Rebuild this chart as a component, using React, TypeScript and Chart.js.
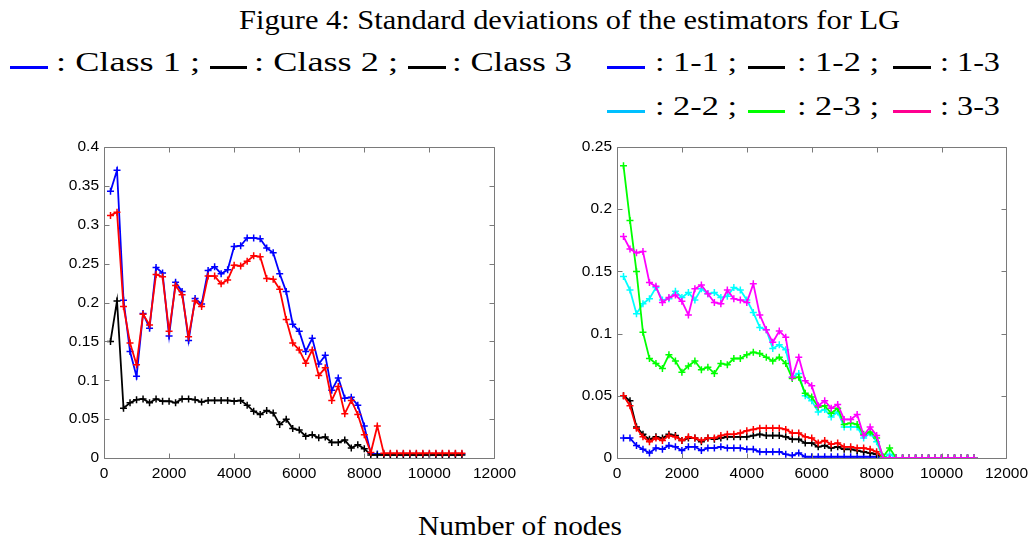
import React, { useEffect, useRef } from 'react';
import { Chart, registerables } from 'chart.js';

Chart.register(...registerables);

// ---------- data ----------
const nodes = [
  200, 400, 600, 800, 1000, 1200, 1400, 1600, 1800, 2000, 2200, 2400, 2600, 2800, 3000,
  3200, 3400, 3600, 3800, 4000, 4200, 4400, 4600, 4800, 5000, 5200, 5400, 5600, 5800, 6000,
  6200, 6400, 6600, 6800, 7000, 7200, 7400, 7600, 7800, 8000, 8200, 8400, 8600, 8800, 9000,
  9200, 9400, 9600, 9800, 10000, 10200, 10400, 10600, 10800, 11000,
];

// left panel (classes)
const class1 = [
  0.343, 0.370, 0.203, 0.137, 0.105, 0.186, 0.167, 0.245, 0.238, 0.157, 0.226, 0.214, 0.151, 0.205, 0.198,
  0.241, 0.246, 0.237, 0.242, 0.272, 0.273, 0.283, 0.283, 0.282, 0.270, 0.264, 0.237, 0.214, 0.172, 0.163,
  0.137, 0.154, 0.121, 0.132, 0.087, 0.103, 0.077, 0.078, 0.068, 0.041, 0.006, 0.005, 0.005, 0.005, 0.005,
  0.005, 0.005, 0.005, 0.005, 0.005, 0.005, 0.005, 0.005, 0.005, 0.005,
];
const class2 = [
  0.150, 0.202, 0.064, 0.071, 0.075, 0.076, 0.071, 0.076, 0.073, 0.073, 0.071, 0.076, 0.076, 0.075, 0.072,
  0.074, 0.074, 0.074, 0.074, 0.073, 0.074, 0.068, 0.060, 0.056, 0.061, 0.058, 0.043, 0.050, 0.038, 0.036,
  0.028, 0.030, 0.026, 0.027, 0.020, 0.020, 0.023, 0.013, 0.017, 0.012, 0.004, 0.004, 0.004, 0.004, 0.004,
  0.004, 0.004, 0.004, 0.004, 0.004, 0.004, 0.004, 0.004, 0.004, 0.004,
];
const class3 = [
  0.312, 0.316, 0.195, 0.148, 0.120, 0.185, 0.171, 0.236, 0.233, 0.163, 0.222, 0.210, 0.156, 0.202, 0.195,
  0.234, 0.234, 0.224, 0.229, 0.248, 0.247, 0.253, 0.260, 0.259, 0.231, 0.230, 0.217, 0.178, 0.148, 0.139,
  0.122, 0.139, 0.106, 0.116, 0.074, 0.092, 0.057, 0.074, 0.056, 0.030, 0.007, 0.041, 0.006, 0.006, 0.006,
  0.006, 0.006, 0.006, 0.006, 0.006, 0.006, 0.006, 0.006, 0.006, 0.006,
];

// right panel (pairs)
const pair11 = [
  0.016, 0.016, 0.010, 0.007, 0.004, 0.008, 0.007, 0.010, 0.009, 0.006, 0.009, 0.009, 0.006, 0.008, 0.008,
  0.009, 0.008, 0.008, 0.008, 0.007, 0.007, 0.005, 0.005, 0.005, 0.005, 0.003, 0.002, 0.004, 0.001, 0.001,
  0.001, 0.001, 0.001, 0.001, 0.001, 0.001, 0.001, 0.001, 0.001, 0.001, 0.000, 0.000, 0.000, 0.000, 0.000,
  0.000, 0.000, 0.000, 0.000, 0.000, 0.000, 0.000, 0.000, 0.000, 0.000,
];
const pair12 = [
  0.050, 0.046, 0.025, 0.019, 0.015, 0.017, 0.016, 0.019, 0.018, 0.014, 0.016, 0.016, 0.013, 0.016, 0.015,
  0.016, 0.017, 0.017, 0.017, 0.017, 0.018, 0.019, 0.018, 0.018, 0.018, 0.017, 0.015, 0.015, 0.012, 0.012,
  0.009, 0.010, 0.008, 0.009, 0.007, 0.007, 0.006, 0.005, 0.004, 0.003, 0.000, 0.000, 0.000, 0.000, 0.000,
  0.000, 0.000, 0.000, 0.000, 0.000, 0.000, 0.000, 0.000, 0.000, 0.000,
];
const pair13 = [
  0.050, 0.042, 0.024, 0.017, 0.013, 0.016, 0.014, 0.018, 0.017, 0.014, 0.017, 0.016, 0.014, 0.016, 0.016,
  0.018, 0.019, 0.019, 0.020, 0.022, 0.023, 0.024, 0.024, 0.024, 0.024, 0.023, 0.020, 0.020, 0.017, 0.016,
  0.012, 0.014, 0.011, 0.012, 0.009, 0.009, 0.008, 0.008, 0.007, 0.005, 0.000, 0.000, 0.000, 0.000, 0.000,
  0.000, 0.000, 0.000, 0.000, 0.000, 0.000, 0.000, 0.000, 0.000, 0.000,
];
const pair22 = [
  0.146, 0.135, 0.116, 0.124, 0.128, 0.137, 0.127, 0.128, 0.134, 0.129, 0.133, 0.127, 0.136, 0.132, 0.133,
  0.129, 0.130, 0.137, 0.135, 0.127, 0.117, 0.105, 0.103, 0.088, 0.091, 0.087, 0.065, 0.068, 0.050, 0.046,
  0.037, 0.039, 0.033, 0.037, 0.025, 0.025, 0.025, 0.016, 0.020, 0.013, 0.000, 0.003, 0.000, 0.000, 0.000,
  0.000, 0.000, 0.000, 0.000, 0.000, 0.000, 0.000, 0.000, 0.000, 0.000,
];
const pair23 = [
  0.235, 0.191, 0.150, 0.101, 0.080, 0.076, 0.072, 0.083, 0.078, 0.069, 0.074, 0.078, 0.071, 0.073, 0.068,
  0.076, 0.075, 0.080, 0.080, 0.083, 0.085, 0.084, 0.081, 0.078, 0.081, 0.076, 0.064, 0.065, 0.052, 0.049,
  0.041, 0.042, 0.036, 0.040, 0.027, 0.028, 0.027, 0.019, 0.021, 0.016, 0.001, 0.008, 0.000, 0.000, 0.000,
  0.000, 0.000, 0.000, 0.000, 0.000, 0.000, 0.000, 0.000, 0.000, 0.000,
];
const pair33 = [
  0.178, 0.168, 0.165, 0.166, 0.141, 0.138, 0.125, 0.129, 0.131, 0.126, 0.115, 0.136, 0.139, 0.132, 0.125,
  0.124, 0.135, 0.128, 0.127, 0.125, 0.140, 0.115, 0.103, 0.093, 0.102, 0.097, 0.065, 0.081, 0.062, 0.058,
  0.042, 0.046, 0.040, 0.043, 0.031, 0.031, 0.035, 0.018, 0.025, 0.018, 0.000, 0.000, 0.000, 0.000, 0.000,
  0.000, 0.000, 0.000, 0.000, 0.000, 0.000, 0.000, 0.000, 0.000, 0.000,
];

const xTickLabels = ['0', '2000', '4000', '6000', '8000', '10000', '12000'];
const leftYTickLabels = ['0', '0.05', '0.1', '0.15', '0.2', '0.25', '0.3', '0.35', '0.4'];
const rightYTickLabels = ['0', '0.05', '0.1', '0.15', '0.2', '0.25'];

const titleText = 'Figure 4: Standard deviations of the estimators for LG';
const xAxisTitle = 'Number of nodes';

// ---------- chart helpers ----------
type Series = { values: number[]; color: string };

const boxPlugin = {
  id: 'matlabBox',
  afterDraw(chart: any) {
    const { ctx, chartArea } = chart;
    const { left, right, top, bottom } = chartArea;
    const xs = chart.scales.x;
    const ys = chart.scales.y;
    ctx.save();
    ctx.strokeStyle = '#7a7a7a';
    ctx.lineWidth = 1;
    const L = Math.round(left) + 0.5;
    const R = Math.round(right) + 0.5;
    const T = Math.round(top) + 0.5;
    const B = Math.round(bottom) + 0.5;
    ctx.beginPath();
    ctx.rect(L, T, R - L, B - T);
    const tl = 5;
    xs.ticks.forEach((t: any) => {
      const p = Math.round(xs.getPixelForValue(t.value)) + 0.5;
      ctx.moveTo(p, B);
      ctx.lineTo(p, B - tl);
      ctx.moveTo(p, T);
      ctx.lineTo(p, T + tl);
    });
    ys.ticks.forEach((t: any) => {
      const p = Math.round(ys.getPixelForValue(t.value)) + 0.5;
      ctx.moveTo(L, p);
      ctx.lineTo(L + tl, p);
      ctx.moveTo(R, p);
      ctx.lineTo(R - tl, p);
    });
    ctx.stroke();
    ctx.restore();
  },
};

function LineChart(props: {
  left: number;
  top: number;
  width: number;
  height: number;
  yWidth: number;
  padRight: number;
  padTop: number;
  xHeight: number;
  series: Series[];
  yMax: number;
  yLabels: string[];
}) {
  const ref = useRef<HTMLCanvasElement | null>(null);
  useEffect(() => {
    if (!ref.current) return;
    const n = props.series.length;
    const chart = new Chart(ref.current, {
      type: 'line',
      data: {
        datasets: props.series.map((s, i) => ({
          data: nodes.map((x, j) => ({ x, y: s.values[j] })),
          borderColor: s.color,
          backgroundColor: s.color,
          borderWidth: 1.8,
          pointStyle: 'cross',
          pointRadius: 3.5,
          pointBorderWidth: 1.5,
          pointBorderColor: s.color,
          tension: 0,
          fill: false,
          order: n - i,
        })),
      },
      options: {
        responsive: false,
        animation: false,
        devicePixelRatio: 1,
        events: [],
        layout: { padding: { top: props.padTop, right: props.padRight, bottom: 0, left: 0 } },
        plugins: { legend: { display: false }, tooltip: { enabled: false }, title: { display: false } },
        scales: {
          x: {
            type: 'linear',
            min: 0,
            max: 12000,
            grid: { display: false, drawTicks: false },
            border: { display: false },
            ticks: {
              stepSize: 2000,
              autoSkip: false,
              maxRotation: 0,
              padding: 6,
              color: '#000',
              font: { family: 'Liberation Sans', size: 15.5 },
              callback: (_v: any, i: number) => xTickLabels[i],
            },
            afterFit: (s: any) => {
              s.height = props.xHeight;
            },
          },
          y: {
            type: 'linear',
            min: 0,
            max: props.yMax,
            grid: { display: false, drawTicks: false },
            border: { display: false },
            ticks: {
              stepSize: 0.05,
              autoSkip: false,
              padding: 5,
              color: '#000',
              font: { family: 'Liberation Sans', size: 15.5 },
              callback: (_v: any, i: number) => props.yLabels[i],
            },
            afterFit: (s: any) => {
              s.width = props.yWidth;
            },
          },
        },
      },
      plugins: [boxPlugin],
    } as any);
    return () => chart.destroy();
  }, []);
  return (
    <canvas
      ref={ref}
      width={props.width}
      height={props.height}
      style={{ position: 'absolute', left: props.left, top: props.top, width: props.width, height: props.height }}
    />
  );
}

const serif = "'Liberation Serif', 'DejaVu Serif', serif";

function T(p: { x: number; y: number; w: number; s: string; size?: number }) {
  return (
    <text
      x={p.x}
      y={p.y}
      textLength={p.w}
      lengthAdjust="spacingAndGlyphs"
      fontFamily={serif}
      fontSize={p.size ?? 27}
      fill="#000"
    >
      {p.s}
    </text>
  );
}

function Rule(p: { x1: number; x2: number; y: number; color: string }) {
  return <rect x={p.x1} y={p.y} width={p.x2 - p.x1} height={3} fill={p.color} />;
}

export default function App() {
  const leftSeries: Series[] = [
    { values: class1, color: '#0000ff' },
    { values: class2, color: '#000000' },
    { values: class3, color: '#ff0000' },
  ];
  const rightSeries: Series[] = [
    { values: pair11, color: '#0000ff' },
    { values: pair12, color: '#000000' },
    { values: pair13, color: '#ff0000' },
    { values: pair22, color: '#00ffff' },
    { values: pair23, color: '#00ff00' },
    { values: pair33, color: '#ff00ff' },
  ];
  const r1 = 71;
  const r2 = 115;
  return (
    <div style={{ position: 'absolute', left: 0, top: 0, width: 1034, height: 543, background: '#fff', overflow: 'hidden' }}>
      <svg width={1034} height={543} style={{ position: 'absolute', left: 0, top: 0 }}>
        <T x={239} y={29} w={661} s={titleText} />
        <Rule x1={10} x2={48} y={r1 - 5} color="#0000ff" />
        <T x={56} y={r1} w={144} s=": Class 1 ;" />
        <Rule x1={210} x2={247} y={r1 - 5} color="#000" />
        <T x={254} y={r1} w={144} s=": Class 2 ;" />
        <Rule x1={408} x2={446} y={r1 - 5} color="#000" />
        <T x={452} y={r1} w={120} s=": Class 3" />

        <Rule x1={607} x2={645} y={r1 - 5} color="#0000ff" />
        <T x={655} y={r1} w={82} s=": 1-1 ;" />
        <Rule x1={748} x2={785} y={r1 - 5} color="#000" />
        <T x={797} y={r1} w={82} s=": 1-2 ;" />
        <Rule x1={893} x2={931} y={r1 - 5} color="#000" />
        <T x={940} y={r1} w={60} s=": 1-3" />

        <Rule x1={607} x2={645} y={r2 - 5} color="#00c0ff" />
        <T x={655} y={r2} w={82} s=": 2-2 ;" />
        <Rule x1={748} x2={785} y={r2 - 5} color="#00ff00" />
        <T x={797} y={r2} w={82} s=": 2-3 ;" />
        <Rule x1={893} x2={931} y={r2 - 5} color="#ff0090" />
        <T x={940} y={r2} w={60} s=": 3-3" />

        <T x={418} y={535} w={204} s={xAxisTitle} />
      </svg>
      <LineChart
        left={0}
        top={130}
        width={522}
        height={360}
        yWidth={104}
        padRight={25}
        padTop={17}
        xHeight={32}
        series={leftSeries}
        yMax={0.4}
        yLabels={leftYTickLabels}
      />
      <LineChart
        left={522}
        top={130}
        width={512}
        height={360}
        yWidth={95}
        padRight={24}
        padTop={17}
        xHeight={32}
        series={rightSeries}
        yMax={0.25}
        yLabels={rightYTickLabels}
      />
    </div>
  );
}
